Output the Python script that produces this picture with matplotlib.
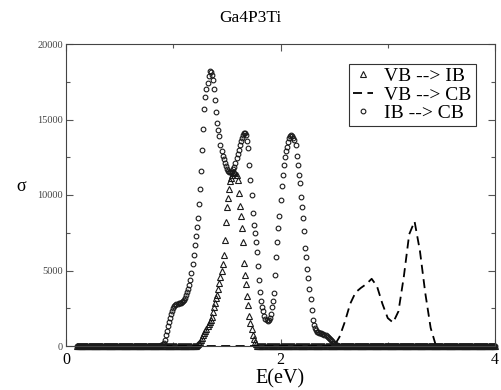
import numpy as np
import matplotlib
matplotlib.use("Agg")
import matplotlib.pyplot as plt
from matplotlib.ticker import MultipleLocator

plt.rcParams['font.family'] = ['Liberation Serif', 'DejaVu Serif']

# energy grid of the computed spectra (eV)
e_start, e_stop, e_step = 0.10, 4.00, 0.01

# VB --> IB (triangles): non-zero part, starting at 1.20 eV, step 0.01 eV
vb_ib_from = 1.20
vb_ib_vals = [
    0, 30, 60, 100, 180, 280, 400, 550, 700, 850,
    1000, 1150, 1300, 1450, 1600, 1750, 1950, 2250, 2550, 2850,
    3150, 3400, 3800, 4150, 4600, 5000, 5450, 6000, 7000, 8200,
    9200, 9800, 10400, 10900, 11100, 11350, 11450, 11500, 11450, 11300,
    11000, 10100, 9300, 8600, 7800, 6900, 5500, 4700, 4100, 3300,
    2700, 2000, 1500, 1100, 750, 450, 250, 100, 0,
]

# IB --> CB (circles): non-zero part, starting at 0.88 eV, step 0.01 eV
ib_cb_from = 0.88
ib_cb_vals = [
    0, 50, 100, 200, 400, 700, 1000, 1300, 1600, 1850,
    2100, 2350, 2500, 2620, 2700, 2760, 2800, 2830, 2850, 2870,
    2900, 2950, 3050, 3200, 3380, 3580, 3800, 4050, 4400, 4850,
    5400, 6000, 6700, 7300, 7900, 8500, 9400, 10400, 11600, 13000,
    14400, 15700, 16500, 17000, 17400, 17900, 18200, 18150, 17950, 17600,
    17000, 16300, 15500, 14800, 14300, 13900, 13300, 12900, 12600, 12400,
    12100, 11900, 11700, 11600, 11550, 11500, 11500, 11550, 11700, 11850,
    12100, 12450, 12700, 13000, 13300, 13550, 13800, 13950, 14100, 14100,
    13950, 13600, 13100, 12000, 11000, 10000, 8800, 8000, 7500, 6900,
    6200, 5300, 4350, 3600, 2950, 2550, 2300, 2000, 1800, 1700,
    1650, 1700, 1850, 2100, 2600, 3000, 3500, 4700, 5900, 6900,
    7800, 8600, 9700, 10600, 11300, 12000, 12500, 12900, 13200, 13500,
    13750, 13900, 13950, 13900, 13800, 13650, 13300, 12600, 12000, 11300,
    10800, 9900, 9200, 8500, 7600, 6500, 5900, 5100, 4500, 3800,
    3100, 2400, 1700, 1400, 1200, 1050, 950, 900, 870, 850,
    830, 800, 780, 750, 700, 650, 600, 530, 450, 380,
    300, 230, 170, 120, 80, 40, 0,
]

# VB --> CB (dashed line)
vb_cb_e = [0.10, 2.50, 2.55, 2.60, 2.65, 2.70, 2.75, 2.80, 2.85, 2.90, 2.95,
           3.00, 3.05, 3.10, 3.15, 3.20, 3.25, 3.30, 3.35, 3.40, 3.45, 4.00]
vb_cb_vals = [0, 0, 600, 1600, 2800, 3550, 3850, 4100, 4450, 3950, 2800,
              1850, 1550, 2300, 4600, 7400, 8250, 6300, 3500, 1200, 0, 0]

energy = np.round(np.arange(e_start, e_stop + e_step / 2, e_step), 2)


def full_series(start, vals):
    # pad the non-zero part with zeros over the whole energy grid
    y = np.zeros(len(energy))
    i0 = int(round((start - e_start) / e_step))
    y[i0:i0 + len(vals)] = vals
    return y


vb_ib = full_series(vb_ib_from, vb_ib_vals)
ib_cb = full_series(ib_cb_from, ib_cb_vals)

fig = plt.figure(figsize=(5.01, 3.90), dpi=100)
ax = fig.add_axes([66 / 501, 1 - 346 / 390, (495 - 66) / 501, (346 - 44) / 390])

col = '#1a1a1a'
ax.plot(energy, vb_ib, linestyle='none', marker='^', markersize=3.8,
        markerfacecolor='none', markeredgecolor=col, markeredgewidth=0.8,
        label='VB --> IB', clip_on=False)
ax.plot(vb_cb_e, vb_cb_vals, linestyle=(0, (5, 3)), color='black',
        linewidth=1.3, label='VB --> CB', clip_on=False)
ax.plot(energy, ib_cb, linestyle='none', marker='o', markersize=3.4,
        markerfacecolor='none', markeredgecolor=col, markeredgewidth=0.8,
        label='IB --> CB', clip_on=False)

ax.set_xlim(0, 4)
ax.set_ylim(0, 20000)
ax.xaxis.set_major_locator(MultipleLocator(2))
ax.xaxis.set_minor_locator(MultipleLocator(1))
ax.yaxis.set_major_locator(MultipleLocator(5000))
ax.yaxis.set_minor_locator(MultipleLocator(2500))
ax.tick_params(which='both', direction='in', top=True, right=True,
               color='#555555', width=0.8)
ax.tick_params(which='major', length=5)
ax.tick_params(which='minor', length=3)
ax.tick_params(axis='x', labelsize=11.5, pad=4)
ax.tick_params(axis='y', labelsize=7.5, labelcolor='#444444', pad=2)
for s in ax.spines.values():
    s.set_linewidth(0.8)
    s.set_color('#444444')

ax.set_xlabel('E(eV)', fontsize=14.5, labelpad=1)
ax.set_ylabel('σ', fontsize=13, rotation=0, labelpad=2)
ax.yaxis.set_label_coords(-0.105, 0.5)
fig.suptitle('Ga4P3Ti', fontsize=12.5, y=0.975)

leg = ax.legend(loc='upper right', bbox_to_anchor=(0.955, 0.935), fontsize=14,
                frameon=True, fancybox=False, framealpha=1, edgecolor='#333333',
                borderpad=0.2, labelspacing=0.05, handlelength=1.0,
                handletextpad=0.6, borderaxespad=0)
leg.get_frame().set_linewidth(0.8)

fig.savefig('out.png', dpi=100)
